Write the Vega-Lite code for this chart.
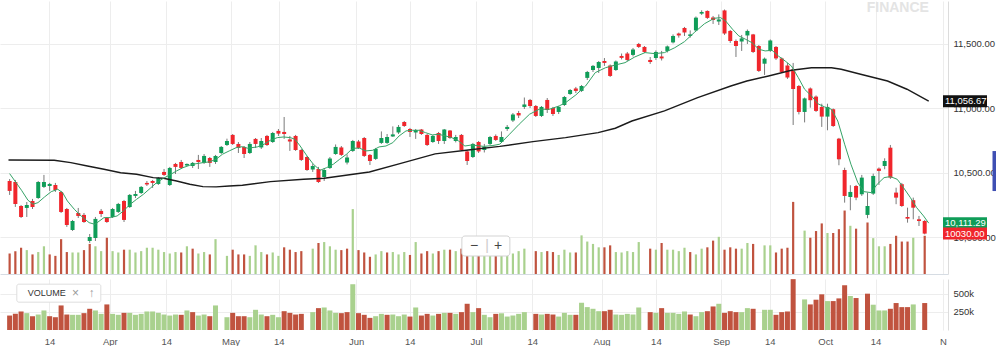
{
  "$schema": "https://vega.github.io/schema/vega-lite/v6.json",
  "padding": 0,
  "background": "white",
  "spacing": 5,
  "config": {
    "view": {"stroke": null},
    "font": "Liberation Sans",
    "axis": {"labelFont": "Liberation Sans", "labelFontSize": 9.5, "labelColor": "#444", "gridColor": "#ededed", "ticks": false}
  },
  "datasets": {
    "c": [
      {"d":0,"o":10438,"h":10453,"l":10330,"c":10361,"v":199000,"vc":"d"},
      {"d":1,"o":10430,"h":10446,"l":10237,"c":10260,"v":222000,"vc":"d"},
      {"d":2,"o":10244,"h":10252,"l":10151,"c":10159,"v":255000,"vc":"d"},
      {"d":3,"o":10229,"h":10275,"l":10159,"c":10252,"v":232000,"vc":"u"},
      {"d":4,"o":10283,"h":10299,"l":10221,"c":10236,"v":190000,"vc":"d"},
      {"d":5,"o":10306,"h":10438,"l":10299,"c":10430,"v":213000,"vc":"u"},
      {"d":6,"o":10392,"h":10485,"l":10384,"c":10430,"v":269000,"vc":"u"},
      {"d":7,"o":10399,"h":10423,"l":10361,"c":10415,"v":190000,"vc":"d"},
      {"d":8,"o":10407,"h":10423,"l":10353,"c":10368,"v":176000,"vc":"d"},
      {"d":9,"o":10353,"h":10361,"l":10190,"c":10198,"v":338000,"vc":"d"},
      {"d":10,"o":10221,"h":10229,"l":10082,"c":10097,"v":213000,"vc":"d"},
      {"d":11,"o":10058,"h":10136,"l":10051,"c":10128,"v":209000,"vc":"u"},
      {"d":12,"o":10190,"h":10229,"l":10151,"c":10167,"v":209000,"vc":"u"},
      {"d":13,"o":10175,"h":10190,"l":10113,"c":10120,"v":232000,"vc":"d"},
      {"d":14,"o":9973,"h":10027,"l":9958,"c":10004,"v":292000,"vc":"d"},
      {"d":15,"o":9996,"h":10159,"l":9973,"c":10144,"v":269000,"vc":"u"},
      {"d":16,"o":10206,"h":10221,"l":10159,"c":10182,"v":222000,"vc":"u"},
      {"d":17,"o":10151,"h":10159,"l":10113,"c":10120,"v":352000,"vc":"d"},
      {"d":18,"o":10159,"h":10229,"l":10151,"c":10221,"v":222000,"vc":"u"},
      {"d":19,"o":10198,"h":10268,"l":10190,"c":10260,"v":209000,"vc":"u"},
      {"d":20,"o":10283,"h":10291,"l":10120,"c":10136,"v":236000,"vc":"d"},
      {"d":21,"o":10236,"h":10337,"l":10229,"c":10330,"v":236000,"vc":"u"},
      {"d":22,"o":10322,"h":10361,"l":10306,"c":10337,"v":209000,"vc":"u"},
      {"d":23,"o":10345,"h":10399,"l":10337,"c":10392,"v":222000,"vc":"u"},
      {"d":24,"o":10423,"h":10438,"l":10399,"c":10411,"v":255000,"vc":"u"},
      {"d":25,"o":10438,"h":10446,"l":10384,"c":10423,"v":255000,"vc":"u"},
      {"d":26,"o":10415,"h":10469,"l":10407,"c":10461,"v":236000,"vc":"u"},
      {"d":27,"o":10508,"h":10531,"l":10477,"c":10485,"v":213000,"vc":"u"},
      {"d":28,"o":10407,"h":10547,"l":10399,"c":10539,"v":199000,"vc":"u"},
      {"d":29,"o":10570,"h":10578,"l":10492,"c":10547,"v":213000,"vc":"u"},
      {"d":30,"o":10585,"h":10601,"l":10531,"c":10539,"v":209000,"vc":"d"},
      {"d":31,"o":10558,"h":10574,"l":10554,"c":10570,"v":269000,"vc":"u"},
      {"d":32,"o":10554,"h":10585,"l":10539,"c":10578,"v":246000,"vc":"d"},
      {"d":33,"o":10601,"h":10640,"l":10531,"c":10585,"v":199000,"vc":"u"},
      {"d":34,"o":10578,"h":10647,"l":10570,"c":10632,"v":213000,"vc":"u"},
      {"d":35,"o":10616,"h":10624,"l":10547,"c":10578,"v":190000,"vc":"d"},
      {"d":36,"o":10585,"h":10640,"l":10570,"c":10632,"v":338000,"vc":"u"},
      {"d":37,"o":10655,"h":10709,"l":10647,"c":10702,"v":null,"vc":"u"},
      {"d":38,"o":10717,"h":10766,"l":10709,"c":10748,"v":176000,"vc":"u"},
      {"d":39,"o":10795,"h":10802,"l":10717,"c":10725,"v":236000,"vc":"d"},
      {"d":40,"o":10725,"h":10740,"l":10655,"c":10694,"v":190000,"vc":"d"},
      {"d":41,"o":10702,"h":10709,"l":10616,"c":10647,"v":190000,"vc":"d"},
      {"d":42,"o":10655,"h":10740,"l":10647,"c":10725,"v":176000,"vc":"u"},
      {"d":43,"o":10764,"h":10771,"l":10694,"c":10725,"v":278000,"vc":"u"},
      {"d":44,"o":10698,"h":10771,"l":10686,"c":10748,"v":213000,"vc":"u"},
      {"d":45,"o":10787,"h":10795,"l":10709,"c":10717,"v":190000,"vc":"d"},
      {"d":46,"o":10740,"h":10818,"l":10733,"c":10810,"v":209000,"vc":"u"},
      {"d":47,"o":10826,"h":10841,"l":10787,"c":10805,"v":176000,"vc":"u"},
      {"d":48,"o":10818,"h":10934,"l":10764,"c":10802,"v":259000,"vc":"d"},
      {"d":49,"o":10760,"h":10787,"l":10671,"c":10744,"v":236000,"vc":"d"},
      {"d":50,"o":10787,"h":10795,"l":10671,"c":10678,"v":213000,"vc":"d"},
      {"d":51,"o":10678,"h":10686,"l":10593,"c":10601,"v":222000,"vc":"d"},
      {"d":52,"o":10624,"h":10632,"l":10516,"c":10523,"v":null,"vc":"d"},
      {"d":53,"o":10527,"h":10570,"l":10508,"c":10554,"v":246000,"vc":"u"},
      {"d":54,"o":10531,"h":10547,"l":10423,"c":10430,"v":301000,"vc":"d"},
      {"d":55,"o":10469,"h":10539,"l":10438,"c":10523,"v":310000,"vc":"u"},
      {"d":56,"o":10539,"h":10624,"l":10531,"c":10612,"v":269000,"vc":"u"},
      {"d":57,"o":10647,"h":10721,"l":10640,"c":10702,"v":236000,"vc":"u"},
      {"d":58,"o":10698,"h":10709,"l":10632,"c":10640,"v":232000,"vc":"d"},
      {"d":59,"o":10581,"h":10644,"l":10566,"c":10620,"v":246000,"vc":"d"},
      {"d":60,"o":10671,"h":10756,"l":10663,"c":10748,"v":630000,"vc":"u"},
      {"d":61,"o":10744,"h":10756,"l":10686,"c":10694,"v":232000,"vc":"d"},
      {"d":62,"o":10771,"h":10779,"l":10624,"c":10632,"v":209000,"vc":"d"},
      {"d":63,"o":10640,"h":10647,"l":10562,"c":10593,"v":167000,"vc":"d"},
      {"d":64,"o":10609,"h":10694,"l":10601,"c":10686,"v":190000,"vc":"u"},
      {"d":65,"o":10733,"h":10822,"l":10725,"c":10771,"v":222000,"vc":"u"},
      {"d":66,"o":10733,"h":10802,"l":10725,"c":10779,"v":209000,"vc":"d"},
      {"d":67,"o":10783,"h":10861,"l":10779,"c":10799,"v":213000,"vc":"u"},
      {"d":68,"o":10814,"h":10872,"l":10802,"c":10857,"v":190000,"vc":"u"},
      {"d":69,"o":10895,"h":10903,"l":10857,"c":10864,"v":213000,"vc":"u"},
      {"d":70,"o":10841,"h":10849,"l":10779,"c":10818,"v":185000,"vc":"d"},
      {"d":71,"o":10814,"h":10841,"l":10764,"c":10833,"v":310000,"vc":"u"},
      {"d":72,"o":10837,"h":10841,"l":10795,"c":10802,"v":199000,"vc":"d"},
      {"d":73,"o":10795,"h":10802,"l":10709,"c":10717,"v":222000,"vc":"d"},
      {"d":74,"o":10740,"h":10795,"l":10733,"c":10787,"v":199000,"vc":"u"},
      {"d":75,"o":10810,"h":10818,"l":10725,"c":10748,"v":222000,"vc":"d"},
      {"d":76,"o":10748,"h":10841,"l":10725,"c":10837,"v":236000,"vc":"u"},
      {"d":77,"o":10829,"h":10833,"l":10764,"c":10771,"v":236000,"vc":"d"},
      {"d":78,"o":10748,"h":10795,"l":10737,"c":10779,"v":222000,"vc":"u"},
      {"d":79,"o":10795,"h":10802,"l":10671,"c":10678,"v":246000,"vc":"d"},
      {"d":80,"o":10667,"h":10675,"l":10562,"c":10593,"v":361000,"vc":"d"},
      {"d":81,"o":10624,"h":10733,"l":10616,"c":10725,"v":246000,"vc":"u"},
      {"d":82,"o":10740,"h":10748,"l":10655,"c":10667,"v":301000,"vc":"d"},
      {"d":83,"o":10678,"h":10725,"l":10659,"c":10702,"v":209000,"vc":"u"},
      {"d":84,"o":10725,"h":10787,"l":10717,"c":10779,"v":176000,"vc":"u"},
      {"d":85,"o":10787,"h":10799,"l":10748,"c":10756,"v":222000,"vc":"d"},
      {"d":86,"o":10740,"h":10822,"l":10733,"c":10779,"v":230000,"vc":"u"},
      {"d":87,"o":10841,"h":10872,"l":10826,"c":10857,"v":185000,"vc":"u"},
      {"d":88,"o":10907,"h":10965,"l":10895,"c":10954,"v":199000,"vc":"u"},
      {"d":89,"o":10965,"h":10981,"l":10926,"c":10946,"v":222000,"vc":"u"},
      {"d":90,"o":11012,"h":11085,"l":10996,"c":11031,"v":246000,"vc":"u"},
      {"d":91,"o":11066,"h":11074,"l":11004,"c":11019,"v":null,"vc":"d"},
      {"d":92,"o":11019,"h":11027,"l":10934,"c":10942,"v":222000,"vc":"d"},
      {"d":93,"o":10942,"h":11019,"l":10934,"c":11012,"v":213000,"vc":"u"},
      {"d":94,"o":11066,"h":11081,"l":10965,"c":10988,"v":222000,"vc":"d"},
      {"d":95,"o":11004,"h":11012,"l":10942,"c":10957,"v":213000,"vc":"d"},
      {"d":96,"o":10973,"h":11019,"l":10957,"c":11012,"v":185000,"vc":"u"},
      {"d":97,"o":11027,"h":11097,"l":11019,"c":11089,"v":236000,"vc":"u"},
      {"d":98,"o":11112,"h":11151,"l":11105,"c":11143,"v":209000,"vc":"u"},
      {"d":99,"o":11155,"h":11167,"l":11120,"c":11136,"v":209000,"vc":"d"},
      {"d":100,"o":11136,"h":11182,"l":11128,"c":11174,"v":375000,"vc":"u"},
      {"d":101,"o":11237,"h":11291,"l":11221,"c":11283,"v":315000,"vc":"u"},
      {"d":102,"o":11298,"h":11337,"l":11283,"c":11330,"v":292000,"vc":"u"},
      {"d":103,"o":11314,"h":11368,"l":11275,"c":11360,"v":259000,"vc":"u"},
      {"d":104,"o":11368,"h":11391,"l":11330,"c":11353,"v":259000,"vc":"d"},
      {"d":105,"o":11333,"h":11341,"l":11244,"c":11252,"v":278000,"vc":"d"},
      {"d":106,"o":11298,"h":11372,"l":11291,"c":11364,"v":213000,"vc":"u"},
      {"d":107,"o":11407,"h":11426,"l":11380,"c":11392,"v":209000,"vc":"u"},
      {"d":108,"o":11426,"h":11438,"l":11368,"c":11376,"v":222000,"vc":"u"},
      {"d":109,"o":11415,"h":11469,"l":11403,"c":11457,"v":213000,"vc":"u"},
      {"d":110,"o":11500,"h":11508,"l":11469,"c":11477,"v":310000,"vc":"u"},
      {"d":111,"o":11477,"h":11484,"l":11430,"c":11438,"v":null,"vc":"d"},
      {"d":112,"o":11376,"h":11399,"l":11345,"c":11360,"v":246000,"vc":"d"},
      {"d":113,"o":11391,"h":11450,"l":11376,"c":11438,"v":236000,"vc":"u"},
      {"d":114,"o":11403,"h":11446,"l":11372,"c":11388,"v":301000,"vc":"d"},
      {"d":115,"o":11446,"h":11488,"l":11434,"c":11481,"v":236000,"vc":"u"},
      {"d":116,"o":11512,"h":11574,"l":11504,"c":11562,"v":236000,"vc":"u"},
      {"d":117,"o":11581,"h":11588,"l":11549,"c":11566,"v":222000,"vc":"u"},
      {"d":118,"o":11624,"h":11632,"l":11562,"c":11589,"v":255000,"vc":"u"},
      {"d":119,"o":11562,"h":11605,"l":11549,"c":11574,"v":213000,"vc":"d"},
      {"d":120,"o":11605,"h":11713,"l":11601,"c":11704,"v":190000,"vc":"u"},
      {"d":121,"o":11735,"h":11761,"l":11725,"c":11748,"v":246000,"vc":"u"},
      {"d":122,"o":11756,"h":11760,"l":11694,"c":11702,"v":259000,"vc":"d"},
      {"d":123,"o":11705,"h":11717,"l":11655,"c":11686,"v":324000,"vc":"d"},
      {"d":124,"o":11674,"h":11729,"l":11647,"c":11690,"v":361000,"vc":"u"},
      {"d":125,"o":11760,"h":11767,"l":11570,"c":11581,"v":236000,"vc":"d"},
      {"d":126,"o":11601,"h":11608,"l":11508,"c":11523,"v":259000,"vc":"d"},
      {"d":127,"o":11523,"h":11535,"l":11399,"c":11484,"v":246000,"vc":"d"},
      {"d":128,"o":11519,"h":11570,"l":11446,"c":11543,"v":246000,"vc":"u"},
      {"d":129,"o":11566,"h":11612,"l":11500,"c":11601,"v":301000,"vc":"u"},
      {"d":130,"o":11574,"h":11578,"l":11430,"c":11438,"v":292000,"vc":"d"},
      {"d":131,"o":11484,"h":11492,"l":11283,"c":11291,"v":null,"vc":"d"},
      {"d":132,"o":11347,"h":11395,"l":11260,"c":11386,"v":278000,"vc":"u"},
      {"d":133,"o":11446,"h":11535,"l":11438,"c":11527,"v":278000,"vc":"u"},
      {"d":134,"o":11477,"h":11484,"l":11376,"c":11388,"v":209000,"vc":"d"},
      {"d":135,"o":11388,"h":11395,"l":11275,"c":11283,"v":246000,"vc":"d"},
      {"d":136,"o":11333,"h":11353,"l":11229,"c":11240,"v":255000,"vc":"d"},
      {"d":137,"o":11302,"h":11353,"l":10872,"c":11151,"v":700000,"vc":"d"},
      {"d":138,"o":11174,"h":11182,"l":10954,"c":10973,"v":null,"vc":"d"},
      {"d":139,"o":10973,"h":11085,"l":10892,"c":11078,"v":421000,"vc":"u"},
      {"d":140,"o":11155,"h":11163,"l":11006,"c":11064,"v":352000,"vc":"d"},
      {"d":141,"o":11092,"h":11101,"l":10973,"c":10981,"v":417000,"vc":"d"},
      {"d":142,"o":11012,"h":11037,"l":10857,"c":10937,"v":491000,"vc":"d"},
      {"d":143,"o":10937,"h":11037,"l":10831,"c":11012,"v":398000,"vc":"u"},
      {"d":144,"o":10994,"h":11000,"l":10857,"c":10864,"v":398000,"vc":"d"},
      {"d":145,"o":10766,"h":10772,"l":10560,"c":10606,"v":435000,"vc":"d"},
      {"d":146,"o":10523,"h":10541,"l":10270,"c":10322,"v":616000,"vc":"d"},
      {"d":147,"o":10314,"h":10405,"l":10211,"c":10353,"v":468000,"vc":"u"},
      {"d":148,"o":10399,"h":10407,"l":10289,"c":10309,"v":440000,"vc":"d"},
      {"d":149,"o":10335,"h":10485,"l":10322,"c":10464,"v":null,"vc":"u"},
      {"d":150,"o":10175,"h":10347,"l":10149,"c":10244,"v":500000,"vc":"d"},
      {"d":151,"o":10340,"h":10495,"l":10330,"c":10477,"v":348000,"vc":"u"},
      {"d":152,"o":10534,"h":10543,"l":10407,"c":10516,"v":269000,"vc":"u"},
      {"d":153,"o":10554,"h":10614,"l":10529,"c":10593,"v":269000,"vc":"u"},
      {"d":154,"o":10696,"h":10717,"l":10454,"c":10464,"v":292000,"vc":"d"},
      {"d":155,"o":10348,"h":10386,"l":10258,"c":10309,"v":371000,"vc":"d"},
      {"d":156,"o":10413,"h":10423,"l":10237,"c":10244,"v":315000,"vc":"d"},
      {"d":157,"o":10159,"h":10231,"l":10115,"c":10146,"v":315000,"vc":"d"},
      {"d":158,"o":10289,"h":10309,"l":10141,"c":10231,"v":352000,"vc":"u"},
      {"d":159,"o":10141,"h":10167,"l":10089,"c":10128,"v":null,"vc":"d"},
      {"d":160,"o":10128,"h":10136,"l":10024,"c":10030,"v":371000,"vc":"d"}
    ],
    "ms": [
      {"d":0,"p":10495},{"d":0.92,"p":10438},{"d":2.08,"p":10366},{"d":3.2,"p":10289},{"d":4.1,"p":10258},{"d":4.95,"p":10270},{"d":6.1,"p":10314},{"d":7.27,"p":10355},{"d":8.4,"p":10374},{"d":9.27,"p":10347},{"d":10.1,"p":10283},{"d":11.3,"p":10219},{"d":12.5,"p":10167},{"d":13.9,"p":10115},{"d":14.9,"p":10102},{"d":16.5,"p":10154},{"d":17.6,"p":10154},{"d":18.8,"p":10167},{"d":19.9,"p":10206},{"d":21.1,"p":10258},{"d":22.2,"p":10296},{"d":23.4,"p":10335},{"d":24.6,"p":10382},{"d":25.7,"p":10425},{"d":26.9,"p":10459},{"d":28,"p":10485},{"d":29.2,"p":10516},{"d":30.3,"p":10541},{"d":31.5,"p":10560},{"d":32.6,"p":10572},{"d":33.8,"p":10580},{"d":34.9,"p":10586},{"d":36.1,"p":10606},{"d":37.2,"p":10645},{"d":38.4,"p":10671},{"d":39.6,"p":10696},{"d":40.7,"p":10704},{"d":41.6,"p":10692},{"d":43.3,"p":10702},{"d":44.5,"p":10723},{"d":45.6,"p":10754},{"d":46.8,"p":10774},{"d":47.9,"p":10779},{"d":49.1,"p":10774},{"d":49.9,"p":10761},{"d":50.8,"p":10709},{"d":52,"p":10632},{"d":53.1,"p":10568},{"d":54.3,"p":10521},{"d":55.4,"p":10541},{"d":56.6,"p":10568},{"d":57.7,"p":10606},{"d":58.9,"p":10645},{"d":60,"p":10692},{"d":61.2,"p":10692},{"d":62.3,"p":10671},{"d":63.5,"p":10676},{"d":64.6,"p":10702},{"d":65.8,"p":10709},{"d":67,"p":10735},{"d":68.1,"p":10787},{"d":69.3,"p":10826},{"d":70.4,"p":10831},{"d":71.6,"p":10831},{"d":72.7,"p":10813},{"d":73.9,"p":10795},{"d":75,"p":10800},{"d":76.2,"p":10787},{"d":77.3,"p":10774},{"d":78.5,"p":10748},{"d":79.6,"p":10709},{"d":80.8,"p":10717},{"d":82.9,"p":10706},{"d":84.5,"p":10713},{"d":85.7,"p":10723},{"d":87.4,"p":10800},{"d":89.1,"p":10878},{"d":90.9,"p":10955},{"d":92.6,"p":10994},{"d":94.4,"p":10994},{"d":96.1,"p":11020},{"d":97.2,"p":11045},{"d":99,"p":11105},{"d":100.7,"p":11174},{"d":102.4,"p":11278},{"d":104.2,"p":11316},{"d":105.9,"p":11337},{"d":107.6,"p":11355},{"d":109.3,"p":11399},{"d":111.1,"p":11433},{"d":112.8,"p":11425},{"d":114.5,"p":11433},{"d":116.3,"p":11471},{"d":118,"p":11518},{"d":119.7,"p":11588},{"d":121.5,"p":11657},{"d":123.2,"p":11699},{"d":124.3,"p":11704},{"d":125.2,"p":11678},{"d":126.4,"p":11614},{"d":127.5,"p":11562},{"d":128.7,"p":11536},{"d":129.8,"p":11510},{"d":131,"p":11459},{"d":132.1,"p":11446},{"d":133.3,"p":11451},{"d":134.4,"p":11407},{"d":135.6,"p":11368},{"d":136.7,"p":11329},{"d":137.9,"p":11239},{"d":139,"p":11149},{"d":140.2,"p":11097},{"d":141.3,"p":11037},{"d":142.5,"p":11012},{"d":143.7,"p":10994},{"d":144.8,"p":10903},{"d":146,"p":10723},{"d":147.1,"p":10568},{"d":148.3,"p":10425},{"d":149.4,"p":10355},{"d":150.6,"p":10348},{"d":151.7,"p":10413},{"d":152.9,"p":10464},{"d":154,"p":10472},{"d":155.2,"p":10451},{"d":156.3,"p":10386},{"d":157.5,"p":10309},{"d":158.6,"p":10231},{"d":159.8,"p":10167},{"d":160.7,"p":10111.29}
    ],
    "ml": [
      {"d":-0.2,"p":10601},{"d":7.8,"p":10599},{"d":10.7,"p":10580},{"d":13.6,"p":10554},{"d":16.5,"p":10529},{"d":19.4,"p":10502},{"d":22.2,"p":10490},{"d":25.1,"p":10464},{"d":26.9,"p":10459},{"d":29.2,"p":10438},{"d":31.5,"p":10413},{"d":33.8,"p":10394},{"d":36.1,"p":10392},{"d":38.4,"p":10399},{"d":40.7,"p":10405},{"d":45.6,"p":10433},{"d":51.4,"p":10451},{"d":55,"p":10459},{"d":62.9,"p":10508},{"d":68.4,"p":10574},{"d":74.4,"p":10648},{"d":80.2,"p":10678},{"d":85.7,"p":10706},{"d":91.5,"p":10743},{"d":97.2,"p":10774},{"d":102.9,"p":10813},{"d":105.9,"p":10847},{"d":108.8,"p":10903},{"d":114.5,"p":10981},{"d":120.3,"p":11084},{"d":126.1,"p":11174},{"d":128.9,"p":11213},{"d":132.7,"p":11252},{"d":136.7,"p":11296},{"d":140.2,"p":11316},{"d":143.7,"p":11316},{"d":145.4,"p":11304},{"d":148.8,"p":11265},{"d":153.5,"p":11213},{"d":156.9,"p":11149},{"d":160.7,"p":11056.67}
    ],
    "tags": [
      {"k":"ma50","p":11056.67,"t":"11,056.67"},
      {"k":"ma5","p":10111.29,"t":"10,111.29"},
      {"k":"last","p":10030,"t":"10030.00"}
    ]
  },
  "vconcat": [
    {
      "width": 948,
      "height": 273,
      "layer": [
        {
          "data": {"name": "c"},
          "mark": {"type": "bar", "size": 2.2, "orient": "vertical"},
          "encoding": {
            "x": {
              "field": "d", "type": "quantitative", "title": null,
              "scale": {"domain": [-0.81, 163.2], "nice": false, "zero": false},
              "axis": {
                "values": [6.97, 17.53, 27.39, 38.63, 47.06, 60.6, 69.95, 81.54, 91.4, 103.5, 113.0, 124.4, 132.9, 142.6, 151.4, 163.2],
                "labels": false, "grid": true, "ticks": false, "domain": true, "domainColor": "#d6dce3", "title": null
              }
            },
            "y": {"field": "v", "type": "quantitative", "title": null, "scale": {"domain": [0, 2650000], "nice": false}, "axis": null},
            "color": {"condition": {"test": "datum.vc == 'u'", "value": "#a9d18e"}, "value": "#c0533f"}
          }
        },
        {
          "layer": [
            {
              "data": {"name": "c"},
              "mark": {"type": "rule", "color": "#7a7a7a", "strokeWidth": 1},
              "encoding": {
                "x": {"field": "d", "type": "quantitative", "title": null},
                "y": {
                  "field": "l", "type": "quantitative", "title": null,
                  "scale": {"domain": [9717, 11833], "nice": false, "zero": false},
                  "axis": {"orient": "right", "values": [10000, 10500, 11000, 11500], "format": ",.2f", "grid": true, "domain": true, "domainColor": "#dcdcdc", "ticks": false, "labelPadding": 5, "labelColor": "#333", "title": null}
                },
                "y2": {"field": "h"}
              }
            },
            {
              "data": {"name": "c"},
              "mark": {"type": "bar", "size": 4, "orient": "vertical"},
              "encoding": {
                "x": {"field": "d", "type": "quantitative", "title": null},
                "y": {"field": "o", "type": "quantitative", "title": null},
                "y2": {"field": "c"},
                "color": {"condition": {"test": "datum.c >= datum.o", "value": "#0f9d58"}, "value": "#f0262c"}
              }
            },
            {
              "data": {"name": "ml"},
              "mark": {"type": "line", "color": "#1b1b1b", "strokeWidth": 1.4},
              "encoding": {
                "x": {"field": "d", "type": "quantitative", "title": null},
                "y": {"field": "p", "type": "quantitative", "title": null}
              }
            },
            {
              "data": {"name": "ms"},
              "mark": {"type": "line", "color": "#36a367", "strokeWidth": 1},
              "encoding": {
                "x": {"field": "d", "type": "quantitative", "title": null},
                "y": {"field": "p", "type": "quantitative", "title": null}
              }
            },
            {
              "data": {"values": [{}]},
              "mark": {"type": "rect", "fill": "#ffffff", "stroke": "#d3d3d3", "strokeWidth": 1, "cornerRadius": 3, "xOffset": -24, "x2Offset": 24, "yOffset": -10, "y2Offset": 10},
              "encoding": {
                "x": {"datum": 83.27, "type": "quantitative"},
                "x2": {"datum": 83.27},
                "y": {"datum": 9934, "type": "quantitative"},
                "y2": {"datum": 9934}
              }
            },
            {
              "data": {"values": [{"s": "−", "x": 81.2}, {"s": "|", "x": 83.5}, {"s": "+", "x": 85.4}]},
              "mark": {"type": "text", "fontSize": 14, "baseline": "middle", "align": "center"},
              "encoding": {
                "x": {"field": "x", "type": "quantitative", "title": null},
                "y": {"datum": 9934, "type": "quantitative"},
                "text": {"field": "s"},
                "color": {"condition": {"test": "datum.s == '|'", "value": "#cccccc"}, "value": "#444444"}
              }
            },
            {
              "data": {"values": [{}]},
              "mark": {"type": "text", "text": "FINANCE", "fontSize": 14, "fontWeight": "bold", "color": "#e4e4e4", "baseline": "middle", "align": "center"},
              "encoding": {
                "x": {"datum": 155.3, "type": "quantitative"},
                "y": {"datum": 11779, "type": "quantitative"}
              }
            },
            {
              "data": {"values": [{}]},
              "mark": {"type": "rect", "fill": "#3f4fb3", "xOffset": 49.5, "x2Offset": 53, "yOffset": -20, "y2Offset": 20},
              "encoding": {
                "x": {"datum": 163.2, "type": "quantitative"},
                "x2": {"datum": 163.2},
                "y": {"datum": 10515, "type": "quantitative"},
                "y2": {"datum": 10515}
              }
            },
            {
              "data": {"name": "tags"},
              "mark": {"type": "rect", "x2Offset": 44, "yOffset": -6, "y2Offset": 6},
              "encoding": {
                "x": {"datum": 163.2, "type": "quantitative"},
                "x2": {"datum": 163.2},
                "y": {"field": "p", "type": "quantitative", "title": null},
                "y2": {"field": "p"},
                "color": {"condition": [{"test": "datum.k == 'ma50'", "value": "#111111"}, {"test": "datum.k == 'last'", "value": "#f0262c"}], "value": "#0f9d58"}
              }
            },
            {
              "data": {"name": "tags"},
              "mark": {"type": "text", "align": "left", "baseline": "middle", "dx": 2, "fontSize": 9.5, "color": "#ffffff"},
              "encoding": {
                "x": {"datum": 163.2, "type": "quantitative"},
                "y": {"field": "p", "type": "quantitative", "title": null},
                "text": {"field": "t"}
              }
            }
          ]
        }
      ],
      "resolve": {"scale": {"y": "independent"}}
    },
    {
      "width": 948,
      "height": 51,
      "layer": [
        {
          "data": {"name": "c"},
          "mark": {"type": "bar", "size": 5, "orient": "vertical"},
          "encoding": {
            "x": {
              "field": "d", "type": "quantitative", "title": null,
              "scale": {"domain": [-0.81, 163.2], "nice": false, "zero": false},
              "axis": {
                "values": [6.97, 17.53, 27.39, 38.63, 47.06, 60.6, 69.95, 81.54, 91.4, 103.5, 113.0, 124.4, 132.9, 142.6, 151.4, 163.2],
                "labelExpr": "datum.value < 12 ? '14' : datum.value < 22 ? 'Apr' : datum.value < 33 ? '14' : datum.value < 43 ? 'May' : datum.value < 54 ? '14' : datum.value < 65 ? 'Jun' : datum.value < 75 ? '14' : datum.value < 86 ? 'Jul' : datum.value < 97 ? '14' : datum.value < 108 ? 'Aug' : datum.value < 118 ? '14' : datum.value < 128 ? 'Sep' : datum.value < 138 ? '14' : datum.value < 147 ? 'Oct' : datum.value < 157 ? '14' : 'N'",
                "labelFlush": false, "labelOverlap": false, "labelPadding": 6, "labelColor": "#555",
                "grid": true, "ticks": false, "domain": false, "title": null
              }
            },
            "y": {
              "field": "v", "type": "quantitative", "title": null,
              "scale": {"domain": [0, 702000], "nice": false},
              "axis": {"orient": "right", "values": [250000, 500000], "format": "~s", "grid": true, "domain": true, "domainColor": "#dcdcdc", "ticks": false, "labelPadding": 5, "labelColor": "#333", "title": null}
            },
            "color": {"condition": {"test": "datum.vc == 'u'", "value": "#a9d18e"}, "value": "#c0533f"}
          }
        },
        {
          "data": {"values": [{}]},
          "mark": {"type": "rect", "fill": "#ffffff", "stroke": "#dedede", "strokeWidth": 1, "cornerRadius": 2, "xOffset": -42, "x2Offset": 42, "yOffset": -9, "y2Offset": 9},
          "encoding": {
            "x": {"datum": 8.6, "type": "quantitative"},
            "x2": {"datum": 8.6},
            "y": {"datum": 507000, "type": "quantitative"},
            "y2": {"datum": 507000}
          }
        },
        {
          "data": {"values": [{"s": "VOLUME", "x": 3.17, "a": "l"}, {"s": "×", "x": 10.9, "a": "c"}, {"s": "↑", "x": 13.8, "a": "c"}]},
          "mark": {"type": "text", "baseline": "middle", "align": "left"},
          "encoding": {
            "x": {"field": "x", "type": "quantitative", "title": null},
            "y": {"datum": 507000, "type": "quantitative"},
            "text": {"field": "s"},
            "size": {"condition": {"test": "datum.a == 'c'", "value": 12}, "value": 9},
            "color": {"condition": {"test": "datum.a == 'c'", "value": "#9a9a9a"}, "value": "#333333"}
          }
        }
      ]
    }
  ]
}
